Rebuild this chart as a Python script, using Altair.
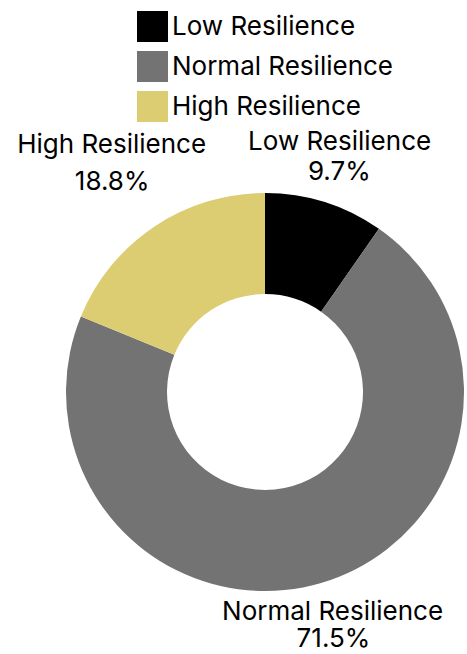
import altair as alt
import pandas as pd

categories = ["Low Resilience", "Normal Resilience", "High Resilience"]
shares = [9.7, 71.5, 18.8]
pct_labels = ["9.7%", "71.5%", "18.8%"]
colors = ["#000000", "#737373", "#dccd72"]

df = pd.DataFrame({
    "category": categories,
    "share": shares,
    "pct": pct_labels,
    "order": list(range(len(categories))),
})

CX, CY = 265, 392
FONT = "Inter"
FS = 26

arc = alt.Chart(df).mark_arc(outerRadius=199, innerRadius=98, stroke=None).encode(
    theta=alt.Theta("share:Q", stack=True),
    order=alt.Order("order:Q"),
    color=alt.Color(
        "category:N",
        scale=alt.Scale(domain=categories, range=colors),
        sort=categories,
        legend=alt.Legend(
            title=None,
            orient="none",
            legendX=137,
            legendY=11,
            direction="vertical",
            symbolType="square",
            symbolSize=961,
            symbolStrokeWidth=0,
            symbolOpacity=1,
            labelFontSize=FS,
            labelFont=FONT,
            labelColor="#000000",
            labelOffset=4,
            rowPadding=9,
            padding=0,
            labelLimit=400,
        ),
    ),
    x=alt.value(CX),
    y=alt.value(CY),
)


def label_layer(cat, field, r, dx):
    return alt.Chart(df).transform_stack(
        stack="share", groupby=[], as_=["s0", "s1"], sort=[alt.SortField("order")]
    ).transform_calculate(
        mid="(datum.s0 + datum.s1) / 2"
    ).transform_filter(
        alt.datum.category == cat
    ).mark_text(
        radius=r, dx=dx, font=FONT, fontSize=FS, color="#000000",
        align="center", baseline="middle",
    ).encode(
        theta=alt.Theta("mid:Q", scale=alt.Scale(domain=[0, 100])),
        text=alt.Text(f"{field}:N"),
        x=alt.value(CX),
        y=alt.value(CY),
    )


layers = [
    arc,
    label_layer("Low Resilience", "category", 262, -4),
    label_layer("Low Resilience", "pct", 231, 5),
    label_layer("High Resilience", "category", 297, 12),
    label_layer("High Resilience", "pct", 253, -12),
    label_layer("Normal Resilience", "category", 229, 3),
    label_layer("Normal Resilience", "pct", 257, -4),
]

chart = alt.layer(*layers).resolve_scale(theta="independent").properties(
    width=467, height=654,
    autosize=alt.AutoSizeParams(type="none"),
    padding=0,
    background="#ffffff",
).configure_view(stroke=None)

chart.save("out.html", embed_options={"renderer": "svg", "actions": False})
